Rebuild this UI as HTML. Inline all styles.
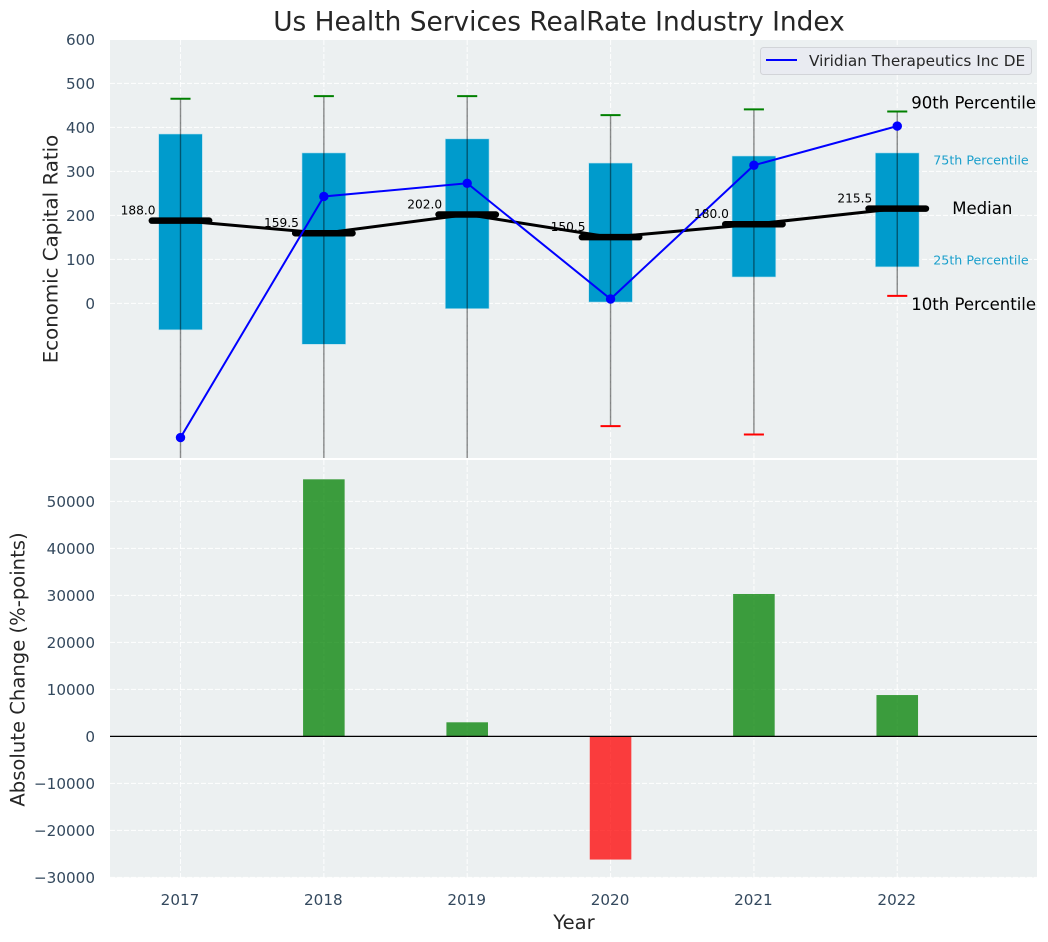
<!DOCTYPE html>
<html lang="en">
<head>
<meta charset="utf-8">
<title>Us Health Services RealRate Industry Index</title>
<style>
html,body{margin:0;padding:0;background:#fff;}
svg{display:block;font-family:"DejaVu Sans","Liberation Sans",sans-serif;}
</style>
</head>
<body>
<svg id="chart" xmlns="http://www.w3.org/2000/svg" width="1048" height="942" viewBox="0 0 1048 942">
  <defs>
    <clipPath id="top-clip"><rect x="110" y="40" width="927" height="418"></rect></clipPath>
    <clipPath id="bottom-clip"><rect x="110" y="460" width="927" height="418"></rect></clipPath>
  </defs>
  <text x="559" y="30.5" text-anchor="middle" font-size="26.4" fill="#262626">Us Health Services RealRate Industry Index</text>
  <rect x="110" y="40" width="927" height="418" fill="#ecf0f1"></rect>
  <rect x="110" y="460" width="927" height="417.5" fill="#ecf0f1"></rect>
  <g id="grid"></g>
  <g id="top-marks" clip-path="url(#top-clip)"></g>
  <g id="bottom-marks" clip-path="url(#bottom-clip)"></g>
  <g id="labels"></g>
  <g id="ticks"></g>
  <text transform="translate(57.5,249) rotate(-90)" text-anchor="middle" font-size="19.8" fill="#262626">Economic Capital Ratio</text>
  <text transform="translate(24.5,669.5) rotate(-90)" text-anchor="middle" font-size="19.6" fill="#262626">Absolute Change (%-points)</text>
  <text x="574" y="929" text-anchor="middle" font-size="19.6" fill="#262626">Year</text>
  <g>
    <rect x="760.5" y="47.5" width="271" height="27" rx="3" fill="#e9ebf1" stroke="#d2d4d8" stroke-width="1"></rect>
    <line x1="766" y1="60" x2="797" y2="60" stroke="#0000ff" stroke-width="2"></line>
    <text x="809" y="66" font-size="15.3" fill="#262626">Viridian Therapeutics Inc DE</text>
  </g>
</svg>
<script>
const years = [2017, 2018, 2019, 2020, 2021, 2022];
const p90 = [465, 471, 471, 428, 441, 436];
const p75 = [385, 342, 374, 319, 335, 342];
const medians = [188.0, 159.5, 202.0, 150.5, 180.0, 215.5];
const p25 = [-60, -93, -12, 3, 60, 83];
const p10 = [-420, -500, -470, -279, -298, 17];
const companyRatio = [-305, 243, 273, 10, 314, 403];
const absoluteChange = [null, 54700, 3000, -26200, 30300, 8800];
const topTicks = [0, 100, 200, 300, 400, 500, 600];
const bottomTicks = [-30000, -20000, -10000, 0, 10000, 20000, 30000, 40000, 50000];

const NS = 'http://www.w3.org/2000/svg';
const xScale = v => 180.5 + (v - 2017) * 143.35;
const yTop = v => 303.4 - v * 0.44;
const yBottom = v => 736.4 - v * 0.0047;
const XL = 110, XR = 1037;

function make(parent, tag, attrs, text) {
  const el = document.createElementNS(NS, tag);
  for (const k in attrs) el.setAttribute(k, attrs[k]);
  if (text !== undefined) el.textContent = text;
  parent.appendChild(el);
  return el;
}
const grid = document.getElementById('grid');
const topG = document.getElementById('top-marks');
const botG = document.getElementById('bottom-marks');
const labels = document.getElementById('labels');
const ticks = document.getElementById('ticks');
const gridStyle = {stroke: '#ffffff', 'stroke-width': 1.1, 'stroke-dasharray': '5 2', 'stroke-opacity': 0.85};
const tickColor = '#34495e';
const tickSize = 15.2;

topTicks.forEach(t => {
  const gl = make(grid, 'line', Object.assign({x1: XL, x2: XR, y1: yTop(t), y2: yTop(t)}, gridStyle));
  
  
  const tl = make(ticks, 'text', {x: 95, y: yTop(t) + 5.5, 'text-anchor': 'end', 'font-size': tickSize, fill: tickColor}, String(t));
  
  
});
bottomTicks.forEach(t => {
  const gl = make(grid, 'line', Object.assign({x1: XL, x2: XR, y1: yBottom(t), y2: yBottom(t)}, gridStyle));
  
  
  const tl = make(ticks, 'text', {x: 95, y: yBottom(t) + 5.5, 'text-anchor': 'end', 'font-size': tickSize, fill: tickColor}, String(t).replace('-', '\u2212'));
  
  
});
years.forEach(y => {
  const g1 = make(grid, 'line', Object.assign({x1: xScale(y), x2: xScale(y), y1: 40, y2: 458}, gridStyle));
  
  
  const g2 = make(grid, 'line', Object.assign({x1: xScale(y), x2: xScale(y), y1: 460, y2: 877.5}, gridStyle));
  
  
  const tl = make(ticks, 'text', {x: xScale(y) - 0.5, y: 905, 'text-anchor': 'middle', 'font-size': tickSize, fill: tickColor}, String(y));
  
  
});

/* boxes */
const boxW = 0.305;
years.forEach((y, i) => {
  const r = make(topG, 'rect', {
    x: xScale(y - boxW / 2), y: yTop(p75[i]),
    width: xScale(y + boxW / 2) - xScale(y - boxW / 2),
    height: yTop(p25[i]) - yTop(p75[i]),
    fill: '#009bcc', stroke: '#b5dfee', 'stroke-width': 0.6
  });
  
  
});
/* whiskers */
years.forEach((y, i) => {
  const w = make(topG, 'line', {x1: xScale(y), x2: xScale(y), y1: yTop(p90[i]), y2: yTop(p10[i]), stroke: '#000', 'stroke-opacity': 0.45, 'stroke-width': 1.4});
  
  
  const hi = make(topG, 'line', {x1: xScale(y - 0.07), x2: xScale(y + 0.07), y1: yTop(p90[i]), y2: yTop(p90[i]), stroke: '#008000', 'stroke-width': 2});
  
  
  const lo = make(topG, 'line', {x1: xScale(y - 0.07), x2: xScale(y + 0.07), y1: yTop(p10[i]), y2: yTop(p10[i]), stroke: '#ff0000', 'stroke-width': 2});
  
  
});
/* median connector + thick median bars */
const medLine = make(topG, 'polyline', {
  points: years.map((y, i) => xScale(y) + ',' + yTop(medians[i])).join(' '),
  fill: 'none', stroke: '#000', 'stroke-width': 3
});


years.forEach((y, i) => {
  const m = make(topG, 'line', {x1: xScale(y - 0.2), x2: xScale(y + 0.2), y1: yTop(medians[i]), y2: yTop(medians[i]), stroke: '#000', 'stroke-width': 6.5, 'stroke-linecap': 'round'});
  
  
  const t = make(labels, 'text', {x: xScale(y) - 25, y: yTop(medians[i]) - 6, 'text-anchor': 'end', 'font-size': 12.2, fill: '#000'}, medians[i].toFixed(1));
  
  
});
/* company series */
const serLine = make(topG, 'polyline', {
  points: years.map((y, i) => xScale(y) + ',' + yTop(companyRatio[i])).join(' '),
  fill: 'none', stroke: '#0000ff', 'stroke-width': 2
});


years.forEach((y, i) => {
  const c = make(topG, 'circle', {cx: xScale(y), cy: yTop(companyRatio[i]), r: 4.7, fill: '#0000ff'});
  
  
});
/* bottom panel bars */
const barW = 0.29;
years.forEach((y, i) => {
  const v = absoluteChange[i];
  if (v === null) return;
  const top = Math.min(yBottom(v), yBottom(0));
  const b = make(botG, 'rect', {
    x: xScale(y - barW / 2), y: top,
    width: xScale(y + barW / 2) - xScale(y - barW / 2),
    height: Math.abs(yBottom(v) - yBottom(0)),
    fill: v >= 0 ? '#008000' : '#ff0000', 'fill-opacity': 0.75
  });
  
  
});
const zero = make(botG, 'line', {x1: XL, x2: XR, y1: yBottom(0), y2: yBottom(0), stroke: '#000', 'stroke-width': 1.2});



/* percentile annotations tied to the last year */
const last = years.length - 1;
const lx = xScale(years[last]);
const a90 = make(labels, 'text', {x: lx + 14, y: yTop(p90[last]) - 3, 'font-size': 16.55, fill: '#000'}, '90th Percentile');


const a75 = make(labels, 'text', {x: lx + 36, y: yTop(p75[last]) + 11.5, 'font-size': 12.65, fill: '#1a9fcc'}, '75th Percentile');


const aMed = make(labels, 'text', {x: lx + 55, y: yTop(medians[last]) + 5.5, 'font-size': 16.55, fill: '#000'}, 'Median');


const a25 = make(labels, 'text', {x: lx + 36, y: yTop(p25[last]) - 2.5, 'font-size': 12.65, fill: '#1a9fcc'}, '25th Percentile');


const a10 = make(labels, 'text', {x: lx + 14, y: yTop(p10[last]) + 14, 'font-size': 16.55, fill: '#000'}, '10th Percentile');


</script>
</body>
</html>
